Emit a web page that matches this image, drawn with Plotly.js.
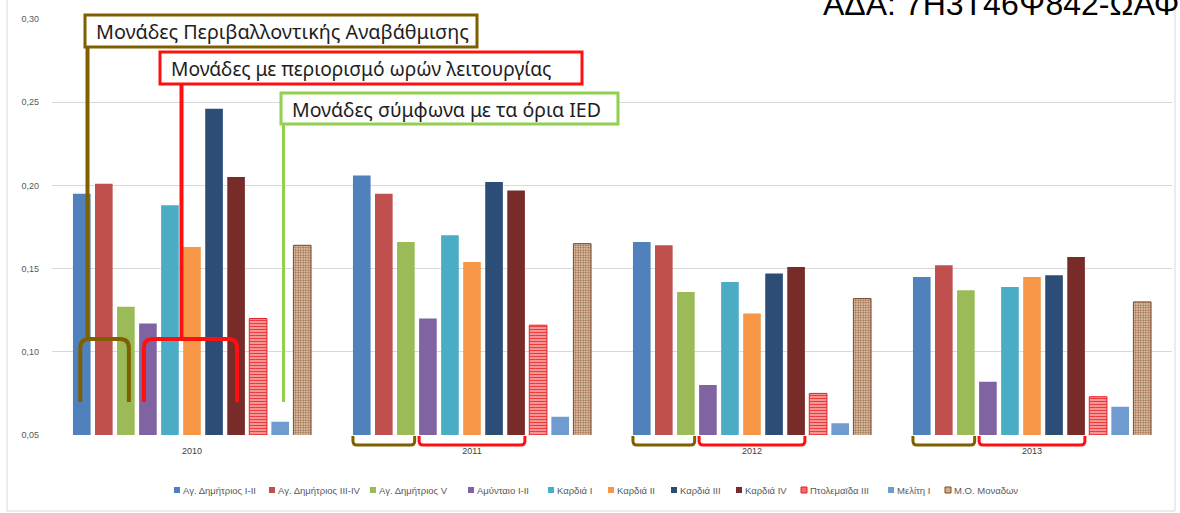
<!DOCTYPE html>
<html>
<head>
<meta charset="utf-8">
<script src="https://cdn.plot.ly/plotly-3.0.1.min.js"></script>
<style>html,body{margin:0;padding:0;background:#fff}#chart{width:1180px;height:513px}</style>
</head>
<body>
<div id="chart"></div>
<script>
// ---- data ----
const years = ['2010', '2011', '2012', '2013'];
const unitNames = ['Αγ. Δημήτριος I-II', 'Αγ. Δημήτριος III-IV', 'Αγ. Δημήτριος V', 'Αμύνταιο I-II',
  'Καρδιά I', 'Καρδιά II', 'Καρδιά III', 'Καρδιά IV', 'Πτολεμαϊδα III', 'Μελίτη I', 'Μ.Ο. Μοναδων'];
const agDim12   = [0.195, 0.206, 0.166, 0.145];
const agDim34   = [0.201, 0.195, 0.164, 0.152];
const agDim5    = [0.127, 0.166, 0.136, 0.137];
const amyntaio  = [0.117, 0.120, 0.080, 0.082];
const kardia1   = [0.188, 0.170, 0.142, 0.139];
const kardia2   = [0.163, 0.154, 0.123, 0.145];
const kardia3   = [0.246, 0.202, 0.147, 0.146];
const kardia4   = [0.205, 0.197, 0.151, 0.157];
const ptolem3   = [0.120, 0.116, 0.075, 0.073];
const meliti1   = [0.058, 0.061, 0.057, 0.067];
const avgUnits  = [0.164, 0.165, 0.132, 0.130];
const yTicks = [0.05, 0.10, 0.15, 0.20, 0.25, 0.30];
const boxLabels = ['Μονάδες Περιβαλλοντικής Αναβάθμισης', 'Μονάδες με περιορισμό ωρών λειτουργίας', 'Μονάδες σύμφωνα με τα όρια IED'];
const adaText = 'ΑΔΑ: 7Η3Τ46Ψ842-ΩΑΦ';

const seriesValues = [agDim12, agDim34, agDim5, amyntaio, kardia1, kardia2, kardia3, kardia4, ptolem3, meliti1, avgUnits];
const colors = ['#4f81bd', '#c0504d', '#9bbb59', '#8064a2', '#4bacc6', '#f79646', '#2c4d75', '#772c2a', '#f05a5a', '#6f9bd1', '#c99a78'];

const traces = seriesValues.map((vals, i) => {
  const t = {
    type: 'bar', name: unitNames[i], x: years, y: vals,
    marker: {color: colors[i], line: {width: 0}},
    hoverinfo: 'skip', showlegend: false
  };
  if (i === 8) {
    t.marker = {color: '#ffffff', line: {color: '#e8202a', width: 1},
      pattern: {shape: '-', fgcolor: '#ee3b3b', bgcolor: '#fbd0d0', size: 3, solidity: 0.6}};
  }
  if (i === 10) {
    t.marker = {color: '#e9c7a6', line: {color: '#7a4a2c', width: 1},
      pattern: {shape: '.', fgcolor: '#9a6a48', bgcolor: '#efd6bf', size: 2.5, solidity: 0.5}};
  }
  return t;
});

// ---- decoration geometry (pixel helpers) ----
const L = 52, R = 1172, T = 19, B = 435;
const X = p => (p - L) / (R - L);
const Y = p => (B - p) / (B - T);
const catW = (R - L) / years.length;
const bargap = 0.134, bargroupgap = 0.2;
const slot = catW * (1 - bargap) / unitNames.length;
const barC = (c, k) => L + catW * (c + 0.5) - catW * (1 - bargap) / 2 + slot * (k + 0.5);
const halfBar = slot * (1 - bargroupgap) / 2;

const olive = '#7f6000', red = '#ff1010', green = '#92d050';
const shapes = [];
const annotations = [];
// outer frame
shapes.push({type: 'rect', xref: 'paper', yref: 'paper', x0: X(7), x1: X(1175), y0: Y(511), y1: Y(-5),
  line: {color: '#d9d9d9', width: 1}, layer: 'below'});

function topBracket(xa, xb, yTop, yBot, color, w) {
  const r = 9;
  const d = `M${X(xa)},${Y(yBot)} L${X(xa)},${Y(yTop + r)} Q${X(xa)},${Y(yTop)} ${X(xa + r)},${Y(yTop)} ` +
            `L${X(xb - r)},${Y(yTop)} Q${X(xb)},${Y(yTop)} ${X(xb)},${Y(yTop + r)} L${X(xb)},${Y(yBot)}`;
  return {type: 'path', xref: 'paper', yref: 'paper', path: d, line: {color, width: w}};
}
function bottomBracket(xa, xb, yTop, yBot, color, w) {
  const r = 4;
  const d = `M${X(xa)},${Y(yTop)} L${X(xa)},${Y(yBot - r)} Q${X(xa)},${Y(yBot)} ${X(xa + r)},${Y(yBot)} ` +
            `L${X(xb - r)},${Y(yBot)} Q${X(xb)},${Y(yBot)} ${X(xb)},${Y(yBot - r)} L${X(xb)},${Y(yTop)}`;
  return {type: 'path', xref: 'paper', yref: 'paper', path: d, line: {color, width: w}};
}
function vline(x, y0, y1, color, w) {
  return {type: 'line', xref: 'paper', yref: 'paper', x0: X(x), x1: X(x), y0: Y(y0), y1: Y(y1), line: {color, width: w}};
}
// 2010 brackets with connectors
shapes.push(topBracket(barC(0, 0) - 1.5, barC(0, 2) + 3, 339, 402, olive, 4));
shapes.push(vline(87.5, 40, 339, olive, 4));
shapes.push(topBracket(barC(0, 3) - 4, barC(0, 7) + 1, 339, 402, red, 4));
shapes.push(vline(181.5, 80, 339, red, 4));
shapes.push(vline(283.5, 120, 402, green, 3));
// 2011-2013 bottom brackets
for (let c = 1; c < years.length; c++) {
  shapes.push(bottomBracket(barC(c, 0) - halfBar, barC(c, 2) + halfBar, 436, 445, olive, 3));
  shapes.push(bottomBracket(barC(c, 3) - halfBar, barC(c, 7) + halfBar, 436, 445, red, 3));
}
// callout boxes
const boxes = [
  {x0: 85, x1: 477, y0: 15, y1: 47, color: olive, size: 19.8},
  {x0: 160, x1: 582, y0: 52, y1: 84, color: red, size: 19.2},
  {x0: 281, x1: 618, y0: 93, y1: 124, color: green, size: 19.5}
];
boxes.forEach((b, i) => {
  shapes.push({type: 'rect', xref: 'paper', yref: 'paper', x0: X(b.x0), x1: X(b.x1), y0: Y(b.y1), y1: Y(b.y0),
    fillcolor: '#ffffff', line: {color: b.color, width: 3}});
  annotations.push({xref: 'paper', yref: 'paper', x: X(b.x0 + 9), y: Y((b.y0 + b.y1) / 2 + 0.5),
    xanchor: 'left', yanchor: 'middle', showarrow: false, text: boxLabels[i],
    font: {family: '"Noto Sans", "Open Sans", sans-serif', size: b.size, color: '#1e1e1e'}});
});
annotations.push({xref: 'paper', yref: 'paper', x: X(1181), y: Y(24), xanchor: 'right', yanchor: 'bottom',
  showarrow: false, text: adaText, font: {family: '"Liberation Sans", Arial, sans-serif', size: 32, color: '#000000'}});

// custom compact legend (swatch + real text), positions like the reference
const legendX = [174, 269, 370, 468, 548, 608, 671, 736, 801, 888, 945];
const legendY = 490;
unitNames.forEach((name, i) => {
  const x = legendX[i];
  const sw = {type: 'rect', xref: 'paper', yref: 'paper', x0: X(x), x1: X(x + 6), y0: Y(legendY + 3), y1: Y(legendY - 3),
    fillcolor: colors[i], line: {width: 0}};
  if (i === 8) { sw.fillcolor = '#f26b6b'; sw.line = {color: '#e8202a', width: 1}; }
  if (i === 10) { sw.fillcolor = '#d9a985'; sw.line = {color: '#7a4a2c', width: 1}; }
  shapes.push(sw);
  annotations.push({xref: 'paper', yref: 'paper', x: X(x + 7), y: Y(legendY), xanchor: 'left', yanchor: 'middle',
    showarrow: false, text: name, font: {family: '"Liberation Sans", Arial, sans-serif', size: 9.5, color: '#595959'}});
});

const layout = {
  width: 1180, height: 513,
  margin: {l: L, r: 1180 - R, t: T, b: 513 - B},
  paper_bgcolor: '#ffffff', plot_bgcolor: '#ffffff',
  barmode: 'group', bargap: bargap, bargroupgap: bargroupgap,
  separators: ', ',
  font: {family: '"Liberation Sans", Arial, sans-serif', size: 9, color: '#595959'},
  xaxis: {type: 'category', showgrid: false, showline: false, ticks: '', zeroline: false, ticklabelstandoff: 9,
    tickfont: {size: 9, color: '#404040'}},
  yaxis: {range: [0.05, 0.30], tickvals: yTicks, tickformat: '.2f', showgrid: true, gridcolor: '#d9d9d9',
    gridwidth: 1, zeroline: false, showline: false, ticks: '', ticklabelstandoff: 12,
    tickfont: {size: 9, color: '#595959'}},
  showlegend: false,
  shapes: shapes,
  annotations: annotations
};

Plotly.newPlot('chart', traces, layout, {staticPlot: true, displayModeBar: false});
</script>
</body>
</html>
